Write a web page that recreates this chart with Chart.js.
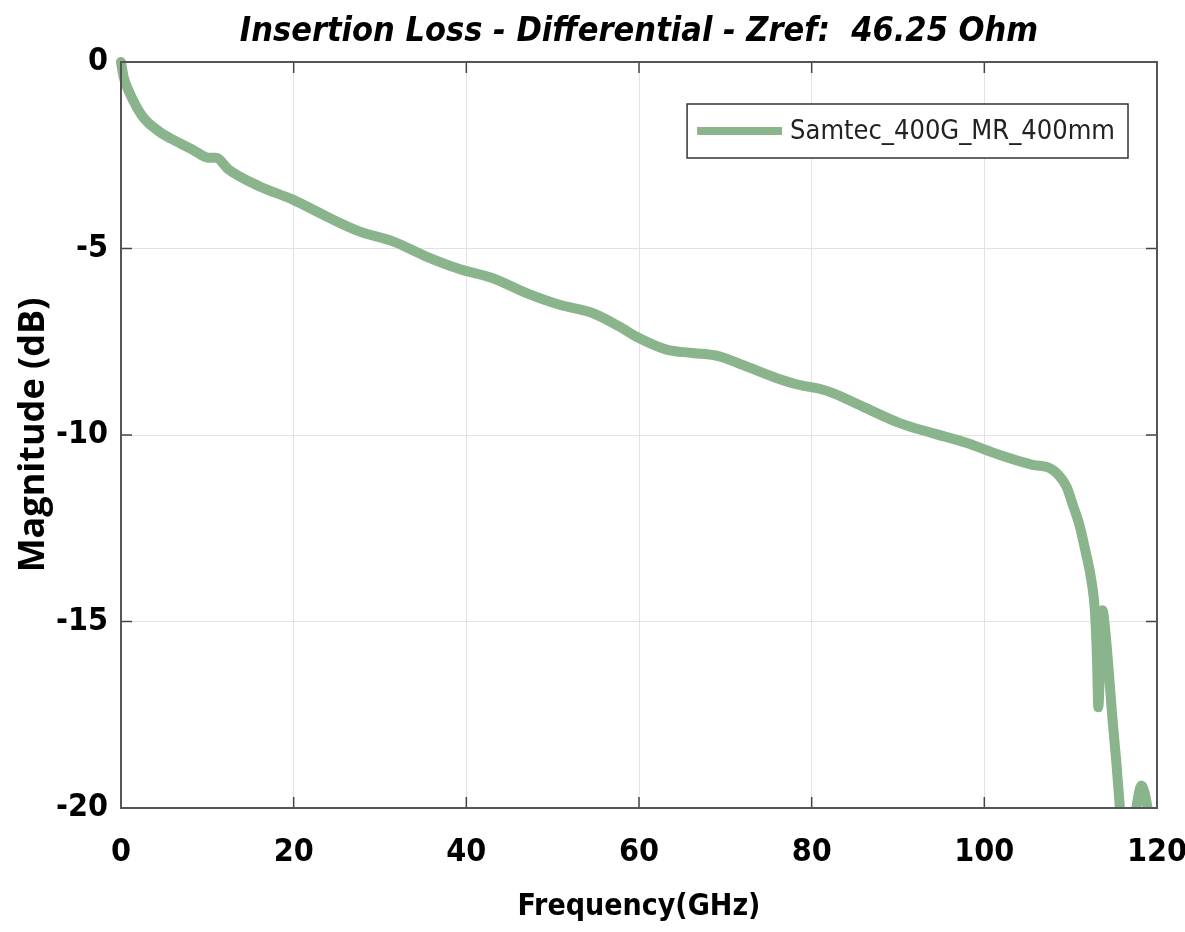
<!DOCTYPE html>
<html>
<head>
<meta charset="utf-8">
<title>Insertion Loss - Differential</title>
<script src="https://cdn.jsdelivr.net/npm/chart.js@4.4.1/dist/chart.umd.min.js"></script>
<style>
  html, body { margin: 0; padding: 0; background: #fff; }
  canvas { display: block; }
</style>
</head>
<body>
<canvas id="ilChart" width="1185" height="932"></canvas>
<script>
// values
const seriesName = "Samtec_400G_MR_400mm";
const freqGHz = [0, 0.3, 1.0, 2.5, 4.4, 6.4, 8.3, 10.2, 11.0, 12.5, 16.0, 19.9, 23.8, 27.6, 31.5, 35.3,
  39.2, 43.0, 46.9, 50.8, 54.6, 57.7, 60.0, 63.2, 66.2, 69.3, 72.0, 75.9, 78.6, 80.9, 82.4, 86.3,
  90.2, 94.0, 97.9, 101.7, 105.6, 107.6, 108.5, 109.5, 110.3, 111.0, 111.7, 112.4, 112.8, 113.05,
  113.2, 113.4, 113.55, 113.7, 113.9, 114.3, 114.8, 115.3, 115.7, 116.3, 117.0, 117.6, 118.2,
  118.9, 119.4, 120];
const magDB = [0, -0.4, -0.83, -1.46, -1.86, -2.13, -2.35, -2.57, -2.57, -2.89, -3.33, -3.69, -4.14, -4.54, -4.81, -5.21,
  -5.55, -5.79, -6.19, -6.51, -6.73, -7.09, -7.40, -7.71, -7.80, -7.89, -8.12, -8.47, -8.66, -8.76, -8.87, -9.28,
  -9.68, -9.95, -10.21, -10.53, -10.80, -10.89, -11.05, -11.38, -11.91, -12.4, -13.1, -13.9, -14.7, -16.0,
  -17.3, -16.2, -15.0, -14.7, -15.0, -16.0, -17.5, -18.8, -20.0, -21.5, -21.0, -20.0, -19.4,
  -20.0, -21.0, -22.0];
const xTickValues = [0, 20, 40, 60, 80, 100, 120];
const yTickValues = [-20, -15, -10, -5, 0];

const lineColor = '#8ab48c';
const narrow = "'Liberation Sans Narrow', 'DejaVu Sans Condensed', 'Liberation Sans', sans-serif";

// MATLAB style box, inward ticks and legend
const boxPlugin = {
  id: 'boxPlugin',
  afterDatasetsDraw(chart) {
    const { ctx, chartArea: a, scales } = chart;
    ctx.save();
    ctx.strokeStyle = '#444';
    ctx.lineWidth = 1.5;
    scales.x.ticks.forEach(t => {
      const px = scales.x.getPixelForValue(t.value);
      ctx.beginPath();
      ctx.moveTo(px, a.bottom); ctx.lineTo(px, a.bottom - 11);
      ctx.moveTo(px, a.top); ctx.lineTo(px, a.top + 11);
      ctx.stroke();
    });
    scales.y.ticks.forEach(t => {
      const py = scales.y.getPixelForValue(t.value);
      ctx.beginPath();
      ctx.moveTo(a.left, py); ctx.lineTo(a.left + 11, py);
      ctx.moveTo(a.right, py); ctx.lineTo(a.right - 11, py);
      ctx.stroke();
    });
    ctx.lineWidth = 2;
    ctx.strokeStyle = '#555';
    ctx.strokeRect(a.left, a.top, a.right - a.left, a.bottom - a.top);

    // legend
    const label = chart.data.datasets[0].label;
    ctx.font = "27px " + narrow;
    const tw = ctx.measureText(label).width;
    const w = 10 + 85 + 8 + tw + 13;
    const h = 54;
    const bx = a.right - 29 - w;
    const by = a.top + 42;
    ctx.fillStyle = '#fff';
    ctx.fillRect(bx, by, w, h);
    ctx.strokeStyle = '#333';
    ctx.lineWidth = 1.5;
    ctx.strokeRect(bx, by, w, h);
    ctx.strokeStyle = lineColor;
    ctx.lineWidth = 8;
    ctx.beginPath();
    ctx.moveTo(bx + 10, by + h / 2); ctx.lineTo(bx + 95, by + h / 2);
    ctx.stroke();
    ctx.fillStyle = '#222';
    ctx.textBaseline = 'middle';
    ctx.fillText(label, bx + 103, by + h / 2 + 1);
    ctx.restore();
  }
};

new Chart(document.getElementById('ilChart'), {
  type: 'line',
  data: {
    datasets: [{
      label: seriesName,
      data: freqGHz.map((f, i) => ({ x: f, y: magDB[i] })),
      borderColor: lineColor,
      borderWidth: 10,
      pointRadius: 0,
      cubicInterpolationMode: 'monotone',
      borderCapStyle: 'round',
      borderJoinStyle: 'round',
      clip: { left: 6, top: 6, right: 0, bottom: 0 }
    }]
  },
  options: {
    responsive: false,
    animation: false,
    layout: { padding: { left: 0, right: 28, top: 0, bottom: 0 } },
    plugins: {
      legend: { display: false },
      tooltip: { enabled: false },
      title: {
        display: true,
        fullSize: false,
        text: 'Insertion Loss - Differential - Zref:  46.25 Ohm',
        color: '#000',
        font: { family: narrow, size: 34, weight: 'bold', style: 'italic', lineHeight: 1.2 },
        padding: { top: 12, bottom: 9.2 }
      }
    },
    scales: {
      x: {
        type: 'linear',
        min: 0, max: 120,
        afterFit: s => { s.height = 124; s.paddingLeft = 0; s.paddingRight = 0; },
        afterBuildTicks: s => { s.ticks = xTickValues.map(v => ({ value: v })); },
        grid: { color: '#e2e2e2', lineWidth: 1, drawTicks: false },
        border: { display: false },
        ticks: { color: '#000', padding: 25, maxRotation: 0, font: { family: narrow, size: 32, weight: 'bold' } },
        title: {
          display: true,
          text: 'Frequency(GHz)',
          color: '#000',
          font: { family: narrow, size: 30, weight: 'bold', lineHeight: 1.2 },
          padding: { top: 0, bottom: 7 }
        }
      },
      y: {
        min: -20, max: 0,
        afterFit: s => { s.width = 121; s.paddingTop = 0; s.paddingBottom = 0; },
        afterBuildTicks: s => { s.ticks = yTickValues.map(v => ({ value: v })); },
        grid: { color: '#e2e2e2', lineWidth: 1, drawTicks: false },
        border: { display: false },
        ticks: { color: '#000', padding: 13, font: { family: narrow, size: 32, weight: 'bold' } },
        title: {
          display: true,
          text: 'Magnitude (dB)',
          color: '#000',
          font: { family: "'Open Sans', sans-serif", size: 36, weight: 'bold', lineHeight: 1.2 },
          padding: { top: 12, bottom: 0 }
        }
      }
    }
  },
  plugins: [boxPlugin]
});
</script>
</body>
</html>
